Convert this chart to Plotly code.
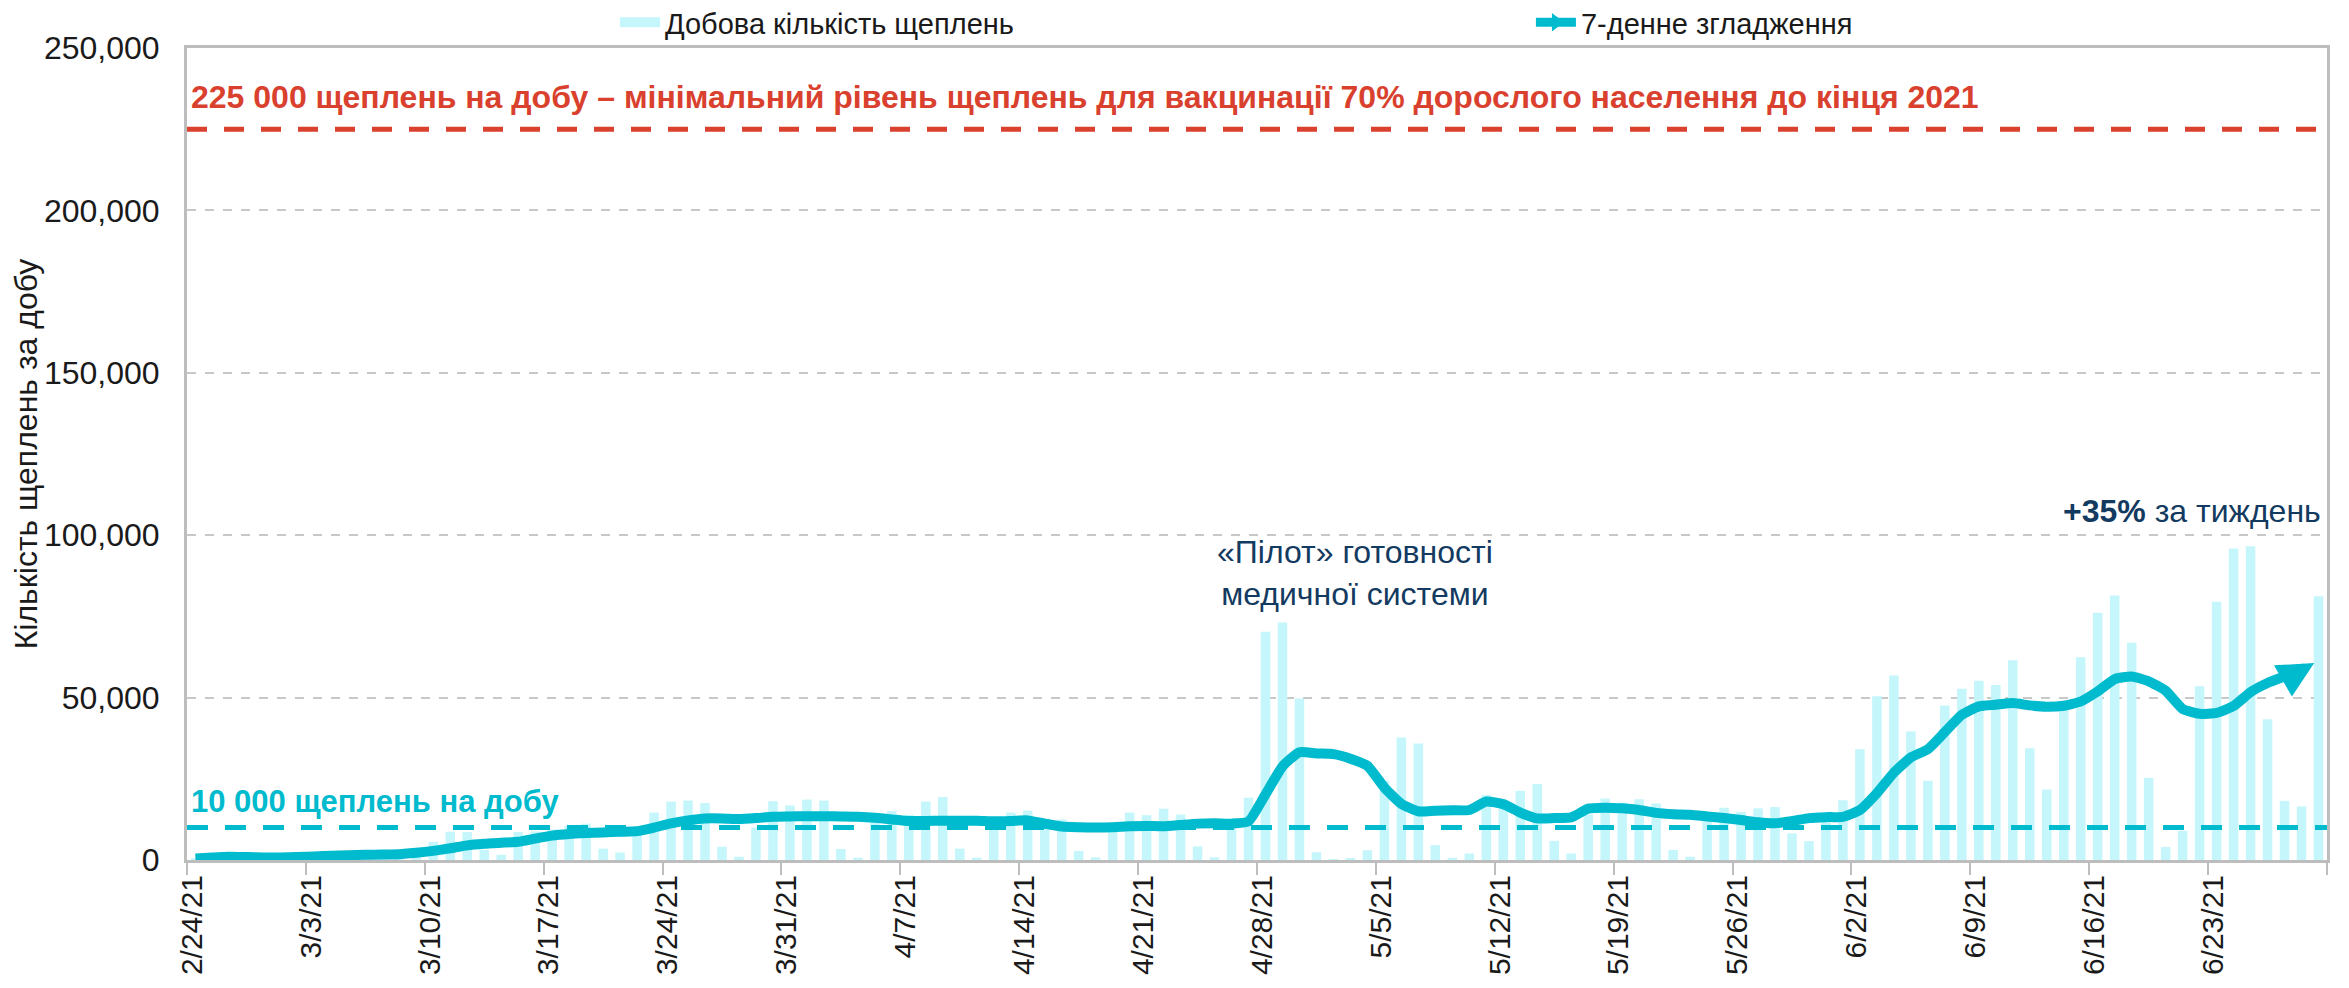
import pandas as pd
import plotly.graph_objects as go

# ---- data -------------------------------------------------------------
dates = pd.date_range("2021-02-24", "2021-06-29", freq="D")

daily_vaccinations = [
    0.5, 1.5, 1.2, 0.4, 0.2,                                   # Feb 24-28
    1.5, 1.8, 2.0, 2.2, 2.1, 0.8, 0.3, 0.6, 3.0, 5.6,          # Mar 1-10
    8.7, 8.6, 3.1, 1.6, 8.6, 8.8, 9.4, 10.5, 11.2, 3.5,        # Mar 11-20
    2.3, 10.3, 14.6, 18.0, 18.3, 17.5, 4.1, 1.0, 10.0, 18.1,   # Mar 21-30
    16.8,                                                      # Mar 31
    18.6, 18.3, 3.4, 0.7, 12.0, 15.1, 13.9, 18.0, 19.4, 3.5,   # Apr 1-10
    0.7, 11.0, 14.6, 15.2, 12.8, 12.5, 2.8, 0.8, 11.3, 14.6,   # Apr 11-20
    13.8, 15.8, 14.0, 4.2, 0.8, 11.8, 19.2, 70.3, 73.1, 49.7,  # Apr 21-30
    2.4, 0.2, 0.5, 3.0, 24.4, 37.7, 35.9, 4.6, 0.7, 2.0,       # May 1-10
    20.0, 17.6, 21.3, 23.4, 5.9, 2.0, 14.0, 18.9, 17.7, 18.7,  # May 11-20
    17.4, 3.1, 1.0, 12.5, 16.1, 14.8, 15.9, 16.3, 8.2, 5.8,    # May 21-30
    13.0,                                                      # May 31
    18.4, 34.1, 50.4, 56.8, 39.6, 24.4, 47.6, 52.7, 55.2, 53.9,  # Jun 1-10
    61.5, 34.4, 21.7, 48.0, 62.4, 76.1, 81.4, 66.9, 25.3, 4.0,   # Jun 11-20
    9.0, 53.5, 79.5, 95.9, 96.6, 43.3, 18.2, 16.5, 81.2,         # Jun 21-29
]
daily_vaccinations = [v * 1000 for v in daily_vaccinations]

smoothed_7day = [
    0.5, 0.8, 1.0, 0.9, 0.8,
    0.8, 0.9, 1.1, 1.3, 1.5, 1.6, 1.7, 1.8, 2.2, 2.8,
    3.6, 4.5, 5.0, 5.3, 5.6, 6.6, 7.5, 8.0, 8.3, 8.5,
    8.7, 8.9, 10.0, 11.3, 12.2, 12.8, 12.8, 12.6, 12.9, 13.3,
    13.4,
    13.5, 13.5, 13.4, 13.3, 13.0, 12.5, 12.0, 12.0, 12.1, 12.1,
    12.1, 11.9, 12.0, 12.2, 11.2, 10.3, 10.1, 10.0, 10.1, 10.4,
    10.5, 10.4, 10.8, 11.2, 11.3, 11.2, 11.9, 20.2, 28.8, 33.2,
    32.8, 32.6, 31.2, 29.0, 22.3, 17.3, 15.0, 15.2, 15.3, 15.4,
    18.0, 17.2, 14.6, 12.8, 12.9, 13.1, 15.8, 16.1, 15.9, 15.4,
    14.5, 14.1, 13.9, 13.4, 12.9, 12.3, 11.6, 11.3, 12.0, 12.9,
    13.2,
    13.3, 15.4, 20.6, 26.9, 31.6, 34.1, 39.4, 44.7, 47.3, 47.8,
    48.3, 47.6, 47.2, 47.5, 48.8, 51.9, 55.7, 56.5, 55.0, 52.1,
    46.5, 45.0, 45.3, 47.4, 51.7, 54.5, 56.5, 58.4, 61.4,
]
smoothed_7day = [v * 1000 for v in smoothed_7day]

tick_dates = ["2021-02-24", "2021-03-03", "2021-03-10", "2021-03-17", "2021-03-24",
              "2021-03-31", "2021-04-07", "2021-04-14", "2021-04-21", "2021-04-28",
              "2021-05-05", "2021-05-12", "2021-05-19", "2021-05-26", "2021-06-02",
              "2021-06-09", "2021-06-16", "2021-06-23", "2021-06-30"]
tick_labels = ["2/24/21", "3/3/21", "3/10/21", "3/17/21", "3/24/21", "3/31/21",
               "4/7/21", "4/14/21", "4/21/21", "4/28/21", "5/5/21", "5/12/21",
               "5/19/21", "5/26/21", "6/2/21", "6/9/21", "6/16/21", "6/23/21", ""]

target_level = 225000
low_level = 10000

bar_name = "Добова кількість щеплень"
line_name = "7-денне згладження"

# ---- styles -----------------------------------------------------------
FONT = "Arial, 'Liberation Sans', sans-serif"
BAR_COLOR = "#C4F6FB"
TEAL = "#00BACD"
RED = "#D9412E"
NAVY = "#133A60"
GRID = "#C8C8C8"
AXIS = "#BDBDBD"
TEXT = "#1A1A1A"
DAY_MS = 86400000
HALF_DAY = pd.Timedelta(hours=12)

fig = go.Figure()

fig.add_trace(go.Bar(
    x=dates, y=daily_vaccinations, name=bar_name, showlegend=False,
    xperiod=DAY_MS, xperiodalignment="middle",
    marker=dict(color=BAR_COLOR, line=dict(width=0)),
))

# smoothed line up to the second-to-last day; the final segment is the arrow
fig.add_trace(go.Scatter(
    x=dates[:-1], y=smoothed_7day[:-1], name=line_name, showlegend=False,
    xperiod=DAY_MS, xperiodalignment="middle",
    mode="lines",
    line=dict(color=TEAL, width=10, shape="spline", smoothing=0.5),
))

fig.add_annotation(
    x=dates[-1] + HALF_DAY, y=smoothed_7day[-1], xref="x", yref="y",
    ax=dates[-2] + HALF_DAY, ay=smoothed_7day[-2], axref="x", ayref="y",
    text="", showarrow=True, arrowhead=2, arrowsize=0.72, arrowwidth=10,
    arrowcolor=TEAL, standoff=5,
)

# legend-only entries
fig.add_trace(go.Scatter(
    x=[None], y=[None], name=bar_name, mode="lines", legend="legend",
    line=dict(color=BAR_COLOR, width=16),
))
fig.add_trace(go.Scatter(
    x=[None], y=[None], name=line_name, mode="lines+markers", legend="legend2",
    line=dict(color=TEAL, width=9),
    marker=dict(symbol="triangle-right", size=26, color=TEAL),
))

fig.add_shape(type="line", xref="paper", x0=0, x1=1, yref="y",
              y0=target_level, y1=target_level, layer="above",
              line=dict(color=RED, width=5, dash="20px,17px"))
fig.add_shape(type="line", xref="paper", x0=0, x1=1, yref="y",
              y0=low_level, y1=low_level, layer="above",
              line=dict(color=TEAL, width=5, dash="21px,17px"))

fig.add_annotation(
    xref="paper", x=0, xanchor="left", xshift=2,
    yref="y", y=target_level, yanchor="bottom", yshift=12,
    text="<b>225 000 щеплень на добу – мінімальний рівень щеплень для вакцинації 70% дорослого населення до кінця 2021</b>",
    showarrow=False, font=dict(family=FONT, size=32, color=RED),
)
fig.add_annotation(
    xref="paper", x=0, xanchor="left", xshift=2,
    yref="y", y=low_level, yanchor="bottom", yshift=7,
    text="<b>10 000 щеплень на добу</b>",
    showarrow=False, font=dict(family=FONT, size=31, color=TEAL),
)
fig.add_annotation(
    xref="paper", x=0.546, xanchor="center",
    yref="y", y=88500, yanchor="middle",
    text="«Пілот» готовності<br>медичної системи", align="center",
    showarrow=False, font=dict(family=FONT, size=32, color=NAVY),
)
fig.add_annotation(
    xref="paper", x=1, xanchor="right", xshift=-4,
    yref="y", y=107300, yanchor="middle",
    text="<b>+35%</b> за тиждень",
    showarrow=False, font=dict(family=FONT, size=32, color=NAVY),
)

legend_common = dict(orientation="h", yanchor="bottom", y=1.0, xanchor="left",
                     font=dict(family=FONT, size=29, color=TEXT),
                     bgcolor="rgba(0,0,0,0)", itemwidth=40)

# page body adds an 8px offset; figure is sized so the plot frame lands at
# x 187..2327, y 48..860 of the window
fig.update_layout(
    width=2341, height=980,
    margin=dict(l=179, r=22, t=40, b=128, autoexpand=False),
    paper_bgcolor="white", plot_bgcolor="white",
    font=dict(family=FONT, size=29, color=TEXT),
    bargap=0.44,
    showlegend=True,
    legend=dict(x=0.2, **legend_common),
    legend2=dict(x=0.628, **legend_common),
    xaxis=dict(
        type="date", range=["2021-02-24", "2021-06-30"],
        tickmode="array", tickvals=tick_dates, ticktext=tick_labels,
        tickangle=-90, ticks="outside", ticklen=12, tickwidth=2, tickcolor=AXIS,
        ticklabelshift=5, ticklabelstandoff=-12,
        showgrid=False, showline=True, linecolor=AXIS, linewidth=3, mirror=True,
        tickfont=dict(family=FONT, size=30, color=TEXT),
        zeroline=False,
    ),
    yaxis=dict(
        range=[0, 250000], tickvals=[0, 50000, 100000, 150000, 200000, 250000],
        tickformat=",d", ticks="", ticklabelstandoff=18,
        showgrid=True, gridcolor=GRID, griddash="dash", gridwidth=2,
        showline=True, linecolor=AXIS, linewidth=3, mirror=True,
        zeroline=False,
        tickfont=dict(family=FONT, size=32, color=TEXT),
        title=dict(text="Кількість щеплень за добу", standoff=14,
                   font=dict(family=FONT, size=32, color=TEXT)),
    ),
)

fig.write_html("out.html")
